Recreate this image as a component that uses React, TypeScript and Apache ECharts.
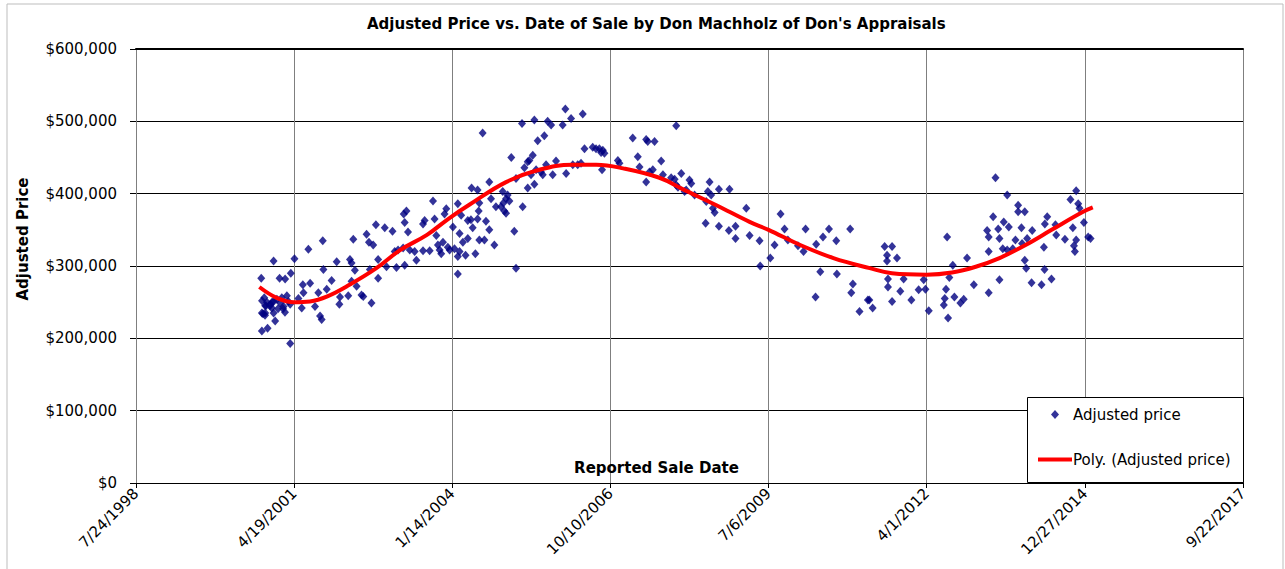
import React, { useEffect, useRef } from "react";
import * as echarts from "echarts";

// Excel-style serial day numbers (day 36000 = 7/24/1998) and adjusted prices
const saleDates: number[] = [
  36792, 36870, 37002, 37090, 37181, 36979, 36908, 36943, 36796, 36817, 36796, 36832, 36880, 36975,
  36811, 36828, 36849, 36870, 36817, 36859, 36891, 36922, 36954, 36964, 36933, 36975, 36870, 36912,
  36797, 36822, 36860, 36898, 36942, 36803, 36816, 36847, 36930,
  37055, 37101, 37059, 37027, 37048, 37132, 37153, 37164, 37174, 37206, 37237, 37185, 37269, 37286,
  37290, 37342, 37353, 37363, 37374, 37384, 37363, 37395, 37426, 37437, 37458, 37473, 37500, 37517,
  37489, 37479, 37531, 37531, 37573, 37622, 37584, 37636, 37647, 37657, 37699, 37689, 37693, 37710,
  37699, 37720, 37731, 37773, 37762, 37815, 37857, 37815, 37825, 37878, 37888, 37899, 37909, 37920,
  37930, 37941, 37951, 37962, 37972, 37983, 38004, 38014, 38035, 38046, 38035, 38056, 38046, 38084,
  38098, 38098, 38067, 38035,
  38122, 38160, 38192, 38234, 38245, 38171, 38167, 38118, 38160, 38213, 38234, 38129, 38171, 38203,
  38146, 38266, 38276, 38308, 38323, 38340, 38350, 38319, 38340, 38329, 38361, 38373, 38392, 38403,
  38403, 38441, 38445, 38456, 38477, 38519, 38487, 38509, 38477, 38519, 38540, 38498, 38530, 38561,
  38582, 38572, 38593, 38603, 38625, 38635, 38656, 38698, 38715, 38720, 38751, 38762, 38793, 38825,
  38814, 38836, 38888, 38909, 38930, 38952, 38962, 38941, 38947, 39047, 39057, 39141, 39173, 39184,
  39226, 39236, 39279, 39226, 39247, 39268,
  39321, 39416, 39332, 39384, 39406, 39416, 39448, 39427, 39469, 39479, 39500, 39511, 39532, 39606,
  39616, 39627, 39637, 39648, 39659, 39686, 39753, 39602, 39686, 39749, 39791, 39791, 39859, 39880,
  39943, 39947, 40011, 40038, 40076, 40101, 40122, 40186, 40221, 40234, 40301, 40327, 40344, 40382,
  40428, 40432, 40297, 40516, 40533, 40523, 40575, 40628,
  40637, 40658, 40734, 40781, 40749, 40749, 40812, 40755, 40755, 40781, 40833, 40854, 40903, 40949,
  40981, 40992, 41013, 41129, 41165, 41143, 41122, 41114, 41108, 41135, 41175, 41213, 41234, 41255,
  41298, 41392, 41392, 41382, 41392, 41420, 41435, 41452, 41460, 41460, 41481, 41487, 41509, 41519,
  41509, 41544, 41561, 41578, 41578, 41599, 41603, 41620, 41620, 41629, 41635, 41663, 41667, 41726,
  41741, 41745, 41747, 41762, 41789, 41814, 41819, 41874, 41909, 41924, 41931, 41937, 41945, 41945,
  41958, 41966, 41994, 42021, 42036,
];

const salePrices: number[] = [
  283000, 307000, 310000, 323000, 335000, 290000, 283000, 282000, 235000, 235000, 210000, 214000, 224000, 193000,
  256000, 250000, 247000, 251000, 245000, 242000, 254000, 256000, 259000, 251000, 244000, 247000, 235000, 249000,
  252000, 245000, 250000, 241000, 236000, 234000, 232000, 245000, 241000,
  274000, 276000, 263000, 255000, 242000, 244000, 263000, 231000, 226000, 268000, 280000, 295000, 306000, 247000,
  257000, 259000, 309000, 304000, 337000, 294000, 279000, 272000, 260000, 258000, 344000, 333000, 329000, 357000,
  249000, 295000, 309000, 283000, 353000, 348000, 299000, 320000, 298000, 322000, 301000, 325000, 372000, 376000,
  360000, 347000, 322000, 308000, 320000, 321000, 321000, 358000, 363000, 390000, 365000, 342000, 329000, 322000,
  317000, 333000, 372000, 379000, 326000, 322000, 354000, 324000, 313000, 320000, 386000, 370000, 345000, 315000,
  363000, 338000, 333000, 289000,
  408000, 405000, 484000, 416000, 393000, 387000, 376000, 364000, 365000, 362000, 350000, 353000, 336000, 336000,
  317000, 329000, 382000, 382000, 387000, 393000, 398000, 403000, 373000, 376000, 390000, 450000, 348000, 297000,
  421000, 497000, 382000, 436000, 408000, 413000, 446000, 453000, 444000, 502000, 473000, 426000, 433000, 430000,
  480000, 426000, 440000, 500000, 495000, 426000, 445000, 495000, 517000, 428000, 504000, 440000, 440000, 510000,
  442000, 462000, 464000, 462000, 462000, 460000, 456000, 457000, 433000, 446000, 442000, 477000, 451000, 437000,
  475000, 472000, 472000, 416000, 430000, 433000,
  445000, 494000, 426000, 422000, 420000, 412000, 428000, 409000, 403000, 405000, 419000, 414000, 398000, 389000,
  403000, 416000, 398000, 380000, 374000, 406000, 406000, 359000, 355000, 349000, 355000, 338000, 380000, 342000,
  335000, 300000, 311000, 329000, 372000, 351000, 336000, 328000, 320000, 351000, 330000, 292000, 340000, 351000,
  335000, 289000, 257000, 351000, 275000, 263000, 237000, 253000,
  253000, 242000, 327000, 327000, 315000, 307000, 311000, 282000, 271000, 251000, 265000, 282000, 253000, 267000,
  281000, 268000, 238000, 340000, 301000, 284000, 268000, 255000, 246000, 228000, 257000, 249000, 254000, 311000,
  274000, 263000, 320000, 349000, 340000, 368000, 422000, 351000, 338000, 281000, 324000, 361000, 322000, 354000,
  398000, 324000, 336000, 384000, 375000, 353000, 331000, 375000, 308000, 297000, 338000, 277000, 349000, 274000,
  326000, 295000, 358000, 368000, 282000, 357000, 343000, 337000, 392000, 353000, 328000, 320000, 404000, 336000,
  386000, 380000, 360000, 340000, 338000,
];

// Polynomial trend line
const trendDates: number[] = [
  36780, 36890, 37000, 37100, 37210, 37350, 37520, 37670, 37840, 37980, 38110, 38340, 38550, 38760, 38910,
  39080, 39310, 39460, 39670, 39880, 40000, 40200, 40410, 40640, 40780, 41000, 41160, 41310, 41460, 41625,
  41790, 41980, 42050,
];
const trendPrices: number[] = [
  271000, 256000, 250000, 251000, 258000, 274000, 297000, 322000, 343000, 366000, 385000, 416000, 433000, 440000, 440000,
  435000, 422000, 406000, 384000, 361000, 350000, 329000, 311000, 297000, 290000, 288000, 291000, 299000, 311000, 329000,
  350000, 374000, 381000,
];

const xMin = 36000;
const xMax = 43000;
const xStep = 1000;
const yMin = 0;
const yMax = 600000;
const yStep = 100000;

const FONT = "DejaVu Sans";
const SCATTER_NAME = "Adjusted price";
const TREND_NAME = "Poly. (Adjusted price)";

function serialToLabel(s: number): string {
  const d = new Date(Date.UTC(1899, 11, 30) + s * 86400000);
  return `${d.getUTCMonth() + 1}/${d.getUTCDate()}/${d.getUTCFullYear()}`;
}

export default function App() {
  const ref = useRef<HTMLDivElement>(null);

  useEffect(() => {
    if (!ref.current) return;
    const chart = echarts.init(ref.current, undefined, { renderer: "svg" });
    const scatterData = saleDates.map((d, i) => [d, salePrices[i]]);
    const trendData = trendDates.map((d, i) => [d, trendPrices[i]]);

    chart.setOption({
      animation: false,
      backgroundColor: "#fff",
      textStyle: { fontFamily: FONT },
      title: {
        text: "Adjusted Price vs. Date of Sale by Don Machholz of Don's Appraisals",
        left: 362,
        top: 11,
        textStyle: { fontFamily: FONT, fontSize: 15, fontWeight: "bold", color: "#000" },
      },
      grid: { left: 136, right: 42, top: 49, bottom: 86 },
      xAxis: [
        {
          type: "value",
          min: xMin,
          max: xMax,
          interval: xStep,
          name: "Reported Sale Date",
          nameLocation: "middle",
          nameGap: -15,
          nameTextStyle: {
            fontFamily: FONT,
            fontSize: 15,
            fontWeight: "bold",
            color: "#000",
            verticalAlign: "middle",
            padding: [0, 66, 0, 0],
          },
          axisLine: { show: true, onZero: false, lineStyle: { color: "#000", width: 1 } },
          axisTick: { show: true, length: 5, lineStyle: { color: "#000" } },
          axisLabel: {
            rotate: 45,
            fontSize: 15,
            color: "#000",
            margin: 8,
            fontFamily: FONT,
            showMinLabel: true,
            showMaxLabel: true,
            formatter: (v: number) => serialToLabel(v),
          },
          splitLine: { show: true, lineStyle: { color: "#7f7f7f", width: 1 } },
        },
        {
          type: "value",
          position: "top",
          min: xMin,
          max: xMax,
          interval: xStep,
          axisLine: { show: true, onZero: false, lineStyle: { color: "#000", width: 2 } },
          axisTick: { show: false },
          axisLabel: { show: false },
          splitLine: { show: false },
        },
      ],
      yAxis: {
        type: "value",
        min: yMin,
        max: yMax,
        interval: yStep,
        name: "Adjusted Price",
        nameLocation: "middle",
        nameGap: 106,
        nameRotate: 90,
        nameTextStyle: {
          fontFamily: FONT,
          fontSize: 15,
          fontWeight: "bold",
          color: "#000",
          padding: [0, 0, 0, 54],
        },
        axisLine: { show: true, lineStyle: { color: "#7f7f7f", width: 1 } },
        axisTick: { show: true, length: 6, lineStyle: { color: "#000" } },
        axisLabel: {
          fontSize: 15,
          color: "#000",
          margin: 19,
          fontFamily: FONT,
          formatter: (v: number) => "$" + v.toLocaleString("en-US"),
        },
        splitLine: { show: true, lineStyle: { color: "#000", width: 1 } },
      },
      legend: [
        {
          orient: "vertical",
          left: 1051,
          top: 407,
          padding: 0,
          itemWidth: 8,
          itemHeight: 9,
          selectedMode: false,
          z: 10,
          textStyle: { fontFamily: FONT, fontSize: 15, color: "#000", padding: [0, 0, 0, 9] },
          data: [{ name: SCATTER_NAME, icon: "diamond" }],
        },
        {
          orient: "vertical",
          left: 1038,
          top: 452,
          padding: 0,
          itemWidth: 34,
          itemHeight: 4,
          itemGap: 0,
          selectedMode: false,
          z: 10,
          textStyle: { fontFamily: FONT, fontSize: 15, color: "#000", padding: [0, 0, 0, -4] },
          data: [{ name: TREND_NAME, icon: "rect" }],
        },
      ],
      graphic: [
        {
          type: "rect",
          silent: true,
          shape: { x: 7, y: 4, width: 1276, height: 600 },
          style: { fill: "none", stroke: "#bdbdbd", lineWidth: 1 },
          z: -10,
        },
        {
          type: "rect",
          silent: true,
          shape: { x: 1028, y: 399, width: 216, height: 85 },
          style: { fill: "#000" },
          z: 4,
        },
        {
          type: "rect",
          silent: true,
          shape: { x: 1027.5, y: 397.5, width: 216, height: 85 },
          style: { fill: "#fff", stroke: "#000", lineWidth: 1 },
          z: 5,
        },
      ],
      series: [
        {
          name: SCATTER_NAME,
          type: "scatter",
          symbol: "diamond",
          symbolSize: [8, 9],
          itemStyle: { color: "#000080" },
          data: scatterData,
          z: 2,
        },
        {
          name: TREND_NAME,
          type: "line",
          data: trendData,
          smooth: 0.4,
          symbol: "none",
          showSymbol: false,
          lineStyle: { color: "#ff0000", width: 4 },
          itemStyle: { color: "#ff0000" },
          z: 3,
        },
      ],
    });

    return () => chart.dispose();
  }, []);

  return (
    <div
      ref={ref}
      style={{ position: "fixed", left: 0, top: 0, width: 1285, height: 569 }}
    />
  );
}
